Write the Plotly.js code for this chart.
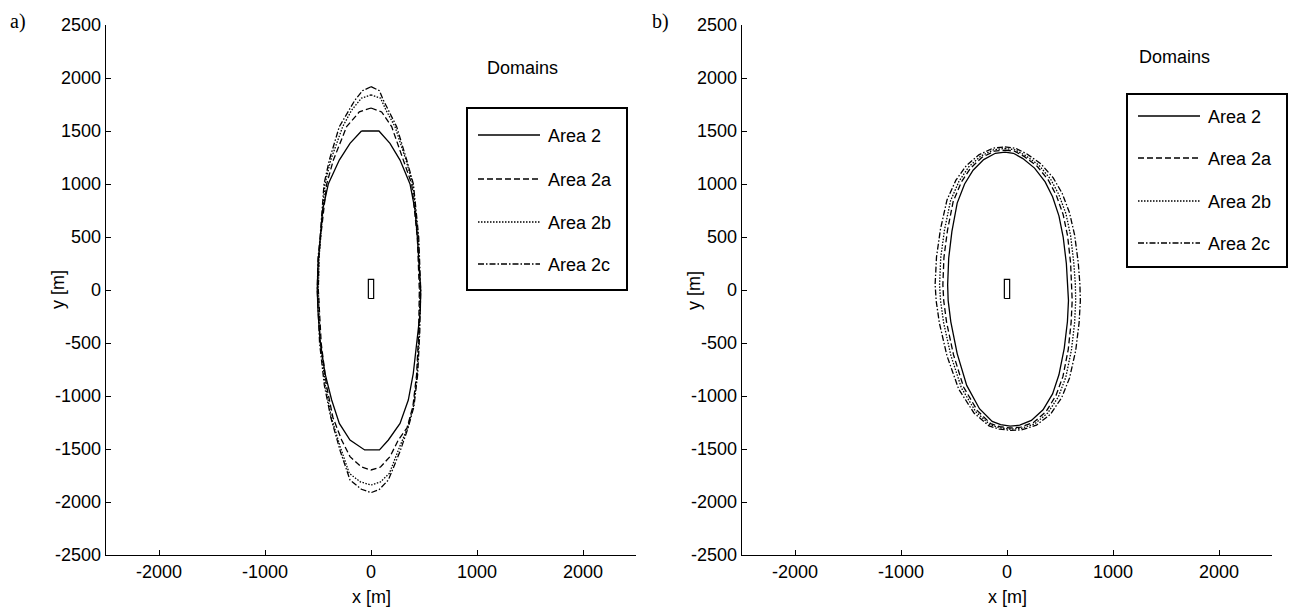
<!DOCTYPE html>
<html>
<head>
<meta charset="utf-8">
<script src="https://cdn.plot.ly/plotly-3.0.1.min.js"></script>
<style>html,body{margin:0;padding:0;background:#fff;}#chart{width:1294px;height:610px;}</style>
</head>
<body>
<div id="chart"></div>
<script>
// ---- Data ----
const seriesNames = ["Area 2", "Area 2a", "Area 2b", "Area 2c"];

// Panel a)
const aArea2X  = [-90, 75, 179, 274, 368, 415, 437, 460, 469, 465, 437, 399, 352, 274, 164, 80, -60, -198, -299, -371, -434, -481, -500, -507, -500, -481, -456, -403, -299, -198, -90];
const aArea2Y  = [1500, 1500, 1384, 1226, 1000, 755, 500, 200, 0, -200, -472, -786, -1038, -1258, -1415, -1509, -1509, -1415, -1258, -1038, -786, -472, -200, 0, 250, 500, 755, 1000, 1226, 1384, 1500];
const aArea2aX = [0, 100, 195, 305, 384, 437, 456, 450, 430, 395, 340, 258, 179, 90, 0, -90, -198, -277, -360, -420, -470, -497, -492, -475, -418, -355, -230, -110, 0];
const aArea2aY = [1717, 1680, 1541, 1226, 1000, 500, 0, -400, -800, -1100, -1300, -1415, -1572, -1670, -1698, -1670, -1572, -1415, -1200, -900, -500, 0, 300, 500, 1000, 1226, 1541, 1680, 1717];
const aArea2bX = [0, 90, 141, 226, 330, 394, 446, 462, 455, 435, 400, 345, 270, 173, 90, 0, -100, -205, -290, -375, -430, -478, -497, -490, -475, -434, -380, -267, -182, -90, 0];
const aArea2bY = [1840, 1810, 1698, 1541, 1226, 1000, 500, 0, -400, -800, -1100, -1300, -1480, -1730, -1810, -1840, -1810, -1730, -1480, -1200, -900, -500, 0, 300, 500, 1000, 1226, 1541, 1698, 1810, 1840];
const aArea2cX = [0, 80, 116, 242, 337, 400, 450, 469, 460, 440, 405, 350, 275, 164, 80, 0, -90, -198, -290, -380, -440, -485, -507, -500, -480, -443, -393, -299, -151, -80, 0];
const aArea2cY = [1918, 1880, 1792, 1541, 1226, 1000, 500, 0, -400, -800, -1100, -1300, -1520, -1792, -1880, -1912, -1880, -1792, -1520, -1200, -900, -500, 0, 300, 500, 1000, 1226, 1541, 1792, 1880, 1918];

// Panel b)
const bArea2X  = [-20, 60, 150, 260, 360, 430, 490, 530, 560, 575, 580, 570, 540, 490, 430, 340, 230, 120, 30, -60, -140, -260, -380, -470, -530, -555, -560, -550, -520, -470, -400, -320, -220, -110, -20];
const bArea2Y  = [1300, 1290, 1240, 1150, 1020, 880, 700, 500, 250, 50, -100, -300, -550, -800, -980, -1130, -1230, -1275, -1285, -1270, -1240, -1120, -900, -600, -300, -100, 50, 300, 550, 820, 1000, 1130, 1230, 1290, 1300];
const bArea2aX = [-20, 70, 165, 285, 390, 465, 530, 572, 600, 612, 615, 605, 578, 528, 462, 368, 250, 130, 30, -65, -155, -280, -410, -505, -570, -597, -605, -595, -562, -508, -432, -345, -238, -120, -20];
const bArea2aY = [1320, 1310, 1258, 1167, 1036, 894, 711, 508, 254, 50, -100, -305, -560, -815, -995, -1148, -1250, -1293, -1302, -1290, -1260, -1138, -915, -610, -305, -100, 50, 305, 560, 834, 1016, 1148, 1250, 1310, 1320];
const bArea2bX = [-20, 75, 172, 298, 410, 488, 556, 600, 630, 645, 648, 638, 608, 555, 486, 385, 262, 136, 32, -68, -162, -295, -430, -530, -598, -627, -636, -625, -590, -533, -453, -362, -250, -126, -20];
const bArea2bY = [1335, 1323, 1270, 1180, 1048, 903, 720, 513, 257, 51, -102, -308, -565, -822, -1005, -1160, -1262, -1305, -1313, -1300, -1270, -1148, -924, -616, -308, -102, 51, 308, 565, 841, 1026, 1160, 1262, 1323, 1335];
const bArea2cX = [-20, 80, 185, 318, 436, 520, 590, 638, 672, 688, 692, 680, 648, 590, 516, 410, 278, 145, 35, -72, -170, -312, -456, -566, -638, -668, -678, -665, -628, -566, -482, -385, -265, -132, -20];
const bArea2cY = [1350, 1338, 1285, 1192, 1058, 913, 728, 518, 260, 52, -103, -311, -572, -830, -1015, -1172, -1275, -1318, -1325, -1312, -1282, -1160, -934, -622, -311, -103, 52, 311, 572, 850, 1036, 1172, 1275, 1338, 1350];

// Small structure outline at the origin
const structX = [-25, 25, 25, -25, -25];
const structY = [-80, -80, 100, 100, -80];

const yTickVals  = [-2500, -2000, -1500, -1000, -500, 0, 500, 1000, 1500, 2000, 2500];
const yTickText  = ["-2500", "-2000", "-1500", "-1000", "-500", "0", "500", "1000", "1500", "2000", "2500"];
const xTickVals  = [-2000, -1000, 0, 1000, 2000];
const xTickText  = ["-2000", "-1000", "0", "1000", "2000"];

// ---- Figure ----
const W = 1294, H = 610;
const dashes = ["solid", "6px,3px", "1.5px,1.5px", "6px,2px,1.5px,2px"];
const panels = [
  {xa: "x", ya: "y", data: [[aArea2X, aArea2Y], [aArea2aX, aArea2aY], [aArea2bX, aArea2bY], [aArea2cX, aArea2cY]]},
  {xa: "x2", ya: "y2", data: [[bArea2X, bArea2Y], [bArea2aX, bArea2aY], [bArea2bX, bArea2bY], [bArea2cX, bArea2cY]]}
];
const traces = [];
panels.forEach((p) => {
  p.data.forEach((d, i) => {
    traces.push({
      x: d[0], y: d[1], xaxis: p.xa, yaxis: p.ya, type: "scatter", mode: "lines",
      name: seriesNames[i], showlegend: false,
      line: {color: "#000", width: 1.3, dash: dashes[i]}
    });
  });
  traces.push({
    x: structX, y: structY, xaxis: p.xa, yaxis: p.ya, type: "scatter", mode: "lines",
    showlegend: false, line: {color: "#000", width: 1.2}, hoverinfo: "skip"
  });
});

const px = v => v / W, py = v => 1 - v / H;
const FAM = "Liberation Sans, Arial, sans-serif";
const font = {family: FAM, size: 18, color: "#000"};
function xaxis(l, r, anchor) {
  return {domain: [px(l), px(r)], range: [-2500, 2500], tickvals: xTickVals, ticktext: xTickText,
    ticks: "inside", ticklen: 5, tickwidth: 1, tickcolor: "#000", showline: true, linecolor: "#000",
    linewidth: 1.4, mirror: false, showgrid: false, zeroline: false, tickfont: font, anchor: anchor};
}
function yaxis(anchor) {
  return {domain: [py(555), py(25)], range: [-2500, 2500], tickvals: yTickVals, ticktext: yTickText,
    ticks: "inside", ticklen: 5, tickwidth: 1, tickcolor: "#000", showline: true, linecolor: "#000",
    linewidth: 1.4, mirror: false, showgrid: false, zeroline: false, tickfont: font, anchor: anchor};
}

const shapes = [];
const annotations = [];
function ann(text, x, y, opts) {
  annotations.push(Object.assign({text: text, xref: "paper", yref: "paper", x: px(x), y: py(y),
    xanchor: "left", yanchor: "middle", showarrow: false, font: {family: FAM, size: 18, color: "#000"}}, opts || {}));
}
// manual legends (box, line samples, labels), positioned as in the reference
function buildLegend(box, rows, lineX0, lineX1, textX) {
  shapes.push({type: "rect", xref: "paper", yref: "paper", x0: px(box[0]), x1: px(box[1]), y0: py(box[3]), y1: py(box[2]),
    line: {color: "#000", width: 2}, fillcolor: "rgba(0,0,0,0)"});
  rows.forEach((yy, i) => {
    shapes.push({type: "line", xref: "paper", yref: "paper", x0: px(lineX0), x1: px(lineX1), y0: py(yy), y1: py(yy),
      line: {color: "#000", width: 1.3, dash: dashes[i]}});
    ann(seriesNames[i], textX, yy + 1);
  });
}
buildLegend([467, 627, 108, 290], [135, 179, 222, 264], 478, 540, 546);
buildLegend([1127, 1287, 94, 267], [116, 158, 201, 243], 1138, 1200, 1206);

ann("Domains", 485, 68);
ann("Domains", 1137, 57);
ann("a)", 8, 22, {font: {family: "Liberation Serif, Times New Roman, serif", size: 20, color: "#000"}});
ann("b)", 650, 22, {font: {family: "Liberation Serif, Times New Roman, serif", size: 20, color: "#000"}});
ann("x [m]", 371, 597, {xanchor: "center"});
ann("x [m]", 1007, 597, {xanchor: "center"});
ann("y [m]", 58, 290, {xanchor: "center", textangle: -90});
ann("y [m]", 694, 290, {xanchor: "center", textangle: -90});

const layout = {
  width: W, height: H, margin: {l: 0, r: 0, t: 0, b: 0},
  paper_bgcolor: "#fff", plot_bgcolor: "#fff", showlegend: false,
  xaxis: xaxis(106, 636, "y"),
  yaxis: yaxis("x"),
  xaxis2: xaxis(742, 1272, "y2"),
  yaxis2: yaxis("x2"),
  shapes: shapes,
  annotations: annotations
};

Plotly.newPlot("chart", traces, layout, {displayModeBar: false, staticPlot: true});
</script>
</body>
</html>
